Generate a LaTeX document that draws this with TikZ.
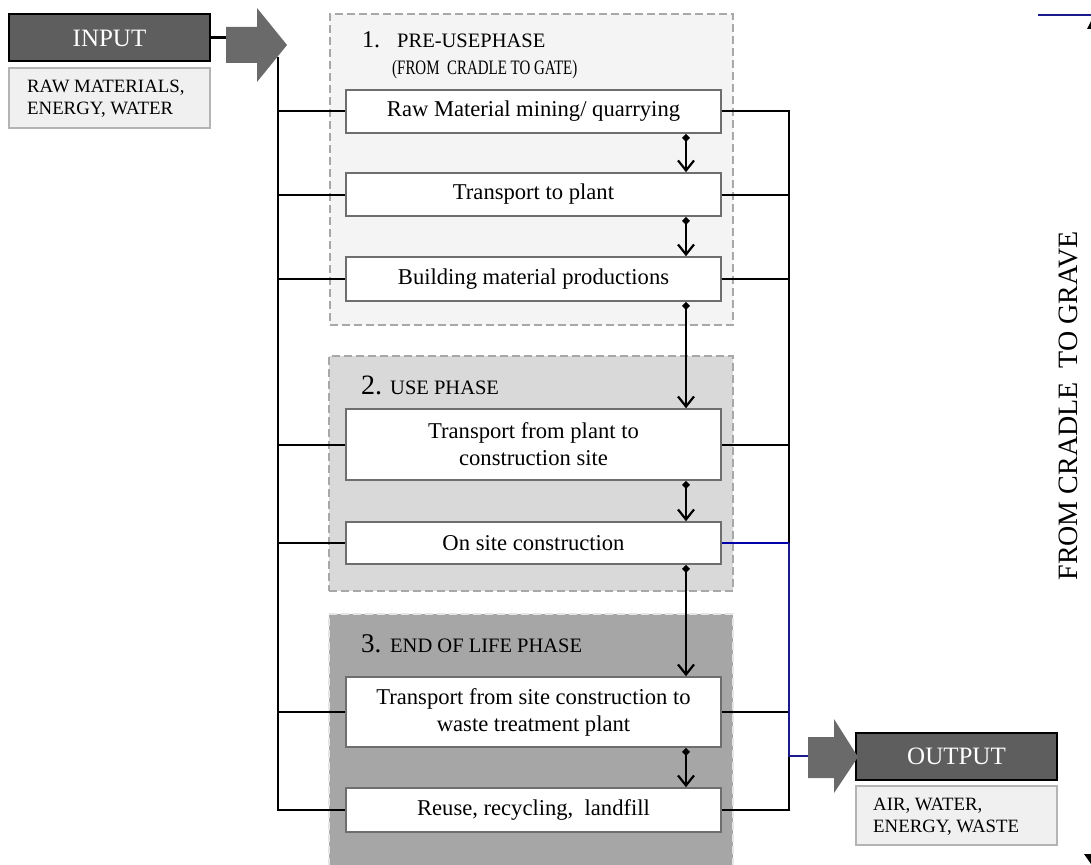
\documentclass[tikz,border=0pt]{standalone}
\usepackage{fontspec}
\setmainfont{Liberation Serif}
\usetikzlibrary{arrows.meta}
\definecolor{darkbox}{HTML}{5E5E5E}
\definecolor{arrowgray}{HTML}{6A6A6A}
\definecolor{subfill}{HTML}{F0F0F0}
\definecolor{subborder}{HTML}{B4B4B4}
\definecolor{boxborder}{HTML}{6E6E6E}
\definecolor{ponefill}{HTML}{F4F4F4}
\definecolor{ptwofill}{HTML}{D9D9D9}
\definecolor{pthreefill}{HTML}{A6A6A6}
\definecolor{phaseborder}{HTML}{A8A8A8}
\definecolor{navyline}{HTML}{1A1A8C}
\definecolor{blueline}{HTML}{0000AA}
\tikzset{
  inbox/.style={draw=boxborder, line width=1.6pt, fill=white, minimum width=375pt,
    align=center, inner sep=0pt, font=\fontsize{22.6}{27}\selectfont},
  phasebox/.style={draw=phaseborder, line width=2.5pt, dash pattern=on 8pt off 4pt, inner sep=0pt},
  darkhead/.style={draw=black, line width=2pt, fill=darkbox, text=white, minimum width=201pt,
    minimum height=47pt, inner sep=0pt, font=\fontsize{25}{25}\selectfont},
  subbox/.style={draw=subborder, line width=1.5pt, fill=subfill, minimum width=201pt, inner sep=0pt},
  subtext/.style={anchor=west, align=left, inner sep=0pt, font=\fontsize{18.8}{22}\selectfont},
  flow/.style={line width=2pt, arrows={Diamond[length=8pt,width=8pt]-Straight Barb[length=10pt,width=16pt,line width=2.2pt]}},
  bus/.style={line width=2pt, draw=black},
  numtext/.style={anchor=base west, inner sep=0pt},
  headtext/.style={anchor=base west, inner sep=0pt, font=\fontsize{20.5}{20.5}\selectfont},
}
\begin{document}
\begin{tikzpicture}[x=1pt,y=-1pt]
\useasboundingbox (0,0) rectangle (1091,864);
\fill[white] (0,0) rectangle (1091,864);

% phase boxes
\node[phasebox, fill=ponefill, minimum width=403pt, minimum height=311pt] (p1) at (531.5,169.5) {};
\node[phasebox, fill=ptwofill, minimum width=404pt, minimum height=235pt] (p2) at (531,473.5) {};
\node[phasebox, draw=white!80!gray, fill=pthreefill, minimum width=404pt, minimum height=256pt] (p3) at (531,742) {};

% phase headings
\node[numtext, font=\fontsize{24}{24}\selectfont] (n1) at (362,48) {1.};
\node[headtext] (t1) at (397,48) {PRE-USEPHASE};
\node[headtext] (t1b) at (392,75) {\scalebox{0.73}[1]{(FROM\ \ CRADLE TO GATE)}};
\node[numtext, font=\fontsize{28}{28}\selectfont] (n2) at (361,394) {2.};
\node[headtext] (t2) at (390,394) {USE PHASE};
\node[numtext, font=\fontsize{27}{27}\selectfont] (n3) at (361,652) {3.};
\node[headtext] (t3) at (390,652) {END OF LIFE PHASE};

% process boxes
\node[inbox, minimum height=43pt] (b1) at (533.5,111.5) {Raw Material mining/ quarrying};
\node[inbox, minimum height=43pt] (b2) at (533.5,194.5) {Transport to plant};
\node[inbox, minimum height=44pt] (b3) at (533.5,279) {Building material productions};
\node[inbox, minimum height=71pt] (b4) at (533.5,444.5) {Transport from plant to\\construction site};
\node[inbox, minimum height=42pt] (b5) at (533.5,543) {On site construction};
\node[inbox, minimum height=70pt] (b6) at (533.5,712) {Transport from site construction to\\waste treatment plant};
\node[inbox, minimum height=44pt] (b7) at (533.5,810) {Reuse, recycling,\ \ landfill};

% flow arrows
\coordinate (ax) at (686,0);
\draw[flow] (b1.south -| ax) -- (b2.north -| ax);
\draw[flow] (b2.south -| ax) -- (b3.north -| ax);
\draw[flow] (b3.south -| ax) -- (b4.north -| ax);
\draw[flow] (b4.south -| ax) -- (b5.north -| ax);
\draw[flow] (b5.south -| ax) -- (b6.north -| ax);
\draw[flow] (b6.south -| ax) -- (b7.north -| ax);

% input
\node[darkhead] (in) at (109.5,38) {INPUT};
\node[subbox, minimum height=60pt] (insub) at (109.5,98) {};
\node[subtext] (insubt) at (27,99) {RAW MATERIALS,\\ENERGY, WATER};
\fill[arrowgray] (226,27) -- (257,27) -- (257,8) -- (287,45) -- (257,82) -- (257,63) -- (226,63) -- cycle;
\coordinate (inarrow) at (226,38);
\draw[line width=3pt] (in.east) -- (inarrow);

% left bus
\coordinate (ltop) at (278,57);
\draw[bus] (ltop) -- (ltop |- b7.west) -- (b7.west);
\foreach \b in {b1,b2,b3,b4,b5,b6} \draw[bus] (\b.west -| ltop) -- (\b.west);

% right bus
\coordinate (rx) at (789,0);
\draw[bus] (b1.east) -- (b1.east -| rx) -- (b5.east -| rx);
\foreach \b in {b2,b3,b4} \draw[bus] (\b.east) -- (\b.east -| rx);
\draw[blueline, line width=1.5pt] (b5.east) -- (b5.east -| rx);
\draw[bus] (b6.east) -- (b6.east -| rx);
\draw[bus] (b7.east) -- (b7.east -| rx) -- (rx |- 0,756);

% output
\node[darkhead] (out) at (956.5,756) {OUTPUT};
\node[subbox, minimum height=59pt] (outsub) at (956.5,815.5) {};
\node[subtext] (outsubt) at (873,816.5) {AIR, WATER,\\ENERGY, WASTE};
\fill[arrowgray] (808,737) -- (834,737) -- (834,719) -- (858,757) -- (834,793) -- (834,778) -- (808,778) -- cycle;
\coordinate (outarrow) at (808,756);
\draw[navyline, line width=2.4pt] (b5.east -| rx) -- (rx |- outarrow) -- (outarrow);

% cradle to grave
\node[rotate=90, inner sep=0pt, font=\fontsize{28}{28}\selectfont] (ctg) at (1068,406) {FROM CRADLE\ \ TO GRAVE};
\draw[navyline, line width=2pt] (1038,15) -- (1091,15);
\fill[black] (1087,29) -- (1091,21) -- (1091,29) -- cycle;
\fill[black] (1084,854) -- (1091,854) -- (1091,864) -- cycle;
\end{tikzpicture}
\end{document}
